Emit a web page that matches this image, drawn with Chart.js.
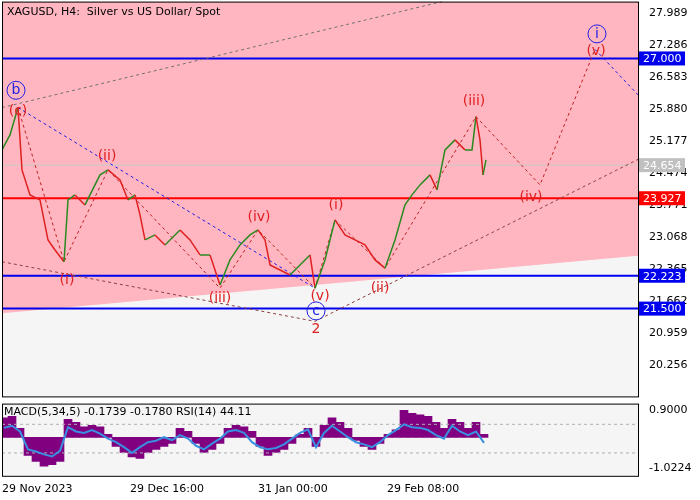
<!DOCTYPE html>
<html lang="en">
<head>
<meta charset="UTF-8">
<title>XAGUSD H4</title>
<script src="https://cdn.jsdelivr.net/npm/chart.js"></script>
<style>
  body { margin:0; background:#fff; font-family:Tahoma, "DejaVu Sans", sans-serif; overflow:hidden; }
  #main { position:absolute; left:0; top:-8px; }
  #sub { position:absolute; left:0; top:394px; }
</style>
</head>
<body>
<canvas id="sub" width="700" height="104"></canvas>
<canvas id="main" width="700" height="414"></canvas>
<script>
// price path (bar position, price)
const priceX = [0,8,16,20,28,38,46,53,62,66,73,83,98,106,118,126,133,138,143,153,163,178,188,198,208,218,228,238,248,256,263,268,278,288,298,308,313,323,333,343,353,363,373,383,393,403,410,418,428,435,443,453,463,470,474,478,481,484];
const priceY = [24.99,25.32,25.92,24.55,24.00,23.89,23.01,22.79,22.53,23.89,24.00,23.78,24.44,24.55,24.33,23.89,24.00,23.56,23.01,23.12,22.90,23.23,23.01,22.68,22.68,22.02,22.57,22.90,23.12,23.23,23.01,22.46,22.35,22.24,22.46,22.68,21.95,22.57,23.45,23.12,23.01,22.90,22.57,22.39,23.01,23.78,24.00,24.22,24.44,24.11,24.99,25.21,24.99,24.99,25.72,25.21,24.44,24.77];

const tickLabels = ['29 Nov 2023','29 Dec 16:00','31 Jan 00:00','29 Feb 08:00'];
const tickPos = [0,128,256,385];
const priceTicks = [27.989,27.286,26.583,25.880,25.177,24.474,23.771,23.068,22.365,21.662,20.959,20.256];

const levels = [27.000, 23.927, 22.223, 21.500];
const levelColors = ['#0000ee','#ff0000','#0000ee','#0000ee'];
const lastPrice = 24.654;

// shaded channel lower edge
const zoneX = [0,636];
const zoneLow = [21.40,22.66];

// wave paths
const waveX = [16,62,106,218,256,313,333,383,474,538,593];
const waveY = [25.92,22.53,24.55,21.95,23.23,21.95,23.45,22.39,25.72,24.22,27.20];
const blueX = [16,313];
const blueY = [25.92,21.95];
const blue2X = [593,636];
const blue2Y = [27.20,26.20];
const upperX = [0,440];
const upperY = [25.92,28.25];
const lowerX = [0,313,636];
const lowerY = [22.53,21.22,24.78];

const waveLabels = [
  ['(c)',16,25.83,'#e02020',false], ['b',14,26.30,'#2020e0',true],
  ['(i)',65,22.12,'#e02020',false], ['(ii)',105,24.85,'#e02020',false],
  ['(iii)',218,21.72,'#e02020',false], ['(iv)',257,23.50,'#e02020',false],
  ['(v)',318,21.78,'#e02020',false], ['c',314,21.45,'#2020e0',true],
  ['2',314,21.04,'#e02020',false], ['(i)',334,23.78,'#e02020',false],
  ['(ii)',378,21.95,'#e02020',false], ['(iii)',472,26.05,'#e02020',false],
  ['(iv)',529,23.95,'#e02020',false], ['(v)',594,27.16,'#e02020',false],
  ['i',595,27.54,'#2020e0',true]
];

// indicator panel
const indX = [2,10,18,26,34,42,50,58,66,74,82,90,98,106,114,122,130,138,146,154,162,170,178,186,194,202,210,218,226,234,242,250,258,266,274,282,290,298,306,314,322,330,338,346,354,362,370,378,386,394,402,410,418,426,434,442,450,458,466,474,482];
const macd = [0.65,0.7,0.3,-0.6,-0.8,-0.95,-0.9,-0.8,0.6,0.5,0.35,0.4,0.35,0.1,-0.3,-0.5,-0.65,-0.7,-0.5,-0.4,-0.3,-0.2,0.3,0.2,-0.2,-0.5,-0.4,-0.2,0.3,0.4,0.35,0.2,-0.3,-0.6,-0.5,-0.4,-0.2,0.1,0.3,-0.3,0.4,0.65,0.5,0.3,-0.1,-0.3,-0.4,-0.2,0.1,0.25,0.9,0.8,0.75,0.7,0.5,0.3,0.6,0.5,0.3,0.5,0.1];
const rsi = [65,68,60,35,32,28,25,33,66,60,58,62,57,50,45,38,30,38,45,47,52,48,55,50,40,35,43,50,60,62,58,45,38,35,37,42,50,58,63,38,58,68,60,52,45,42,38,45,55,62,70,66,65,62,55,50,68,60,55,60,44];

const pts = (xs, ys) => xs.map((x, i) => ({x: x, y: ys[i]}));
const font = {family: 'Tahoma, "DejaVu Sans", sans-serif', size: 11};

const frame = {
  id: 'frame',
  beforeDraw(chart) {
    const a = chart.chartArea, c = chart.ctx;
    c.save(); c.fillStyle = '#f5f5f5';
    c.fillRect(a.left, a.top, a.right - a.left, a.bottom - a.top); c.restore();
  },
  afterDraw(chart) {
    const a = chart.chartArea, c = chart.ctx;
    c.save(); c.strokeStyle = '#000'; c.lineWidth = 1;
    c.strokeRect(a.left + 0.5, a.top + 0.5, a.right - a.left, a.bottom - a.top);
    c.restore();
  }
};

const overlay = {
  id: 'overlay',
  afterDraw(chart) {
    const c = chart.ctx, xs = chart.scales.x, ys = chart.scales.y, a = chart.chartArea;
    c.save();
    c.font = '14px Tahoma, "DejaVu Sans", sans-serif';
    c.textAlign = 'center'; c.textBaseline = 'middle';
    waveLabels.forEach(l => {
      const px = xs.getPixelForValue(l[1]), py = ys.getPixelForValue(l[2]);
      c.fillStyle = l[3];
      c.fillText(l[0], px, py);
      if (l[4]) { c.strokeStyle = l[3]; c.lineWidth = 1; c.beginPath(); c.arc(px, py, 9, 0, Math.PI * 2); c.stroke(); }
    });
    c.font = '11px Tahoma, "DejaVu Sans", sans-serif';
    c.textAlign = 'left';
    c.fillStyle = '#000';
    c.fillText('XAGUSD, H4:  Silver vs US Dollar/ Spot', a.left + 5, a.top + 11);
    const box = (v, bg) => {
      const py = ys.getPixelForValue(v);
      c.fillStyle = bg; c.fillRect(a.right + 1, py - 7, 46, 14);
      c.fillStyle = '#fff'; c.fillText(v.toFixed(3), a.right + 5, py + 1);
    };
    levels.forEach((v, i) => box(v, levelColors[i]));
    box(lastPrice, '#c0c0c0');
    c.restore();
  }
};

const dashed = (data, color) => ({type: 'line', data: data, borderColor: color, borderWidth: 1, borderDash: [3, 3], pointRadius: 0, fill: false, order: 2});

new Chart(document.getElementById('main'), {
  type: 'line',
  data: {
    datasets: [
      {data: pts(zoneX, zoneLow), borderWidth: 0, pointRadius: 0, fill: 'end', backgroundColor: '#ffb6c1', order: 10},
      {data: pts(zoneX, [lastPrice, lastPrice]), borderColor: '#c8c8c8', borderWidth: 1, pointRadius: 0, order: 9},
      ...levels.map((v, i) => ({data: pts(zoneX, [v, v]), borderColor: levelColors[i], borderWidth: 2, pointRadius: 0, order: 8})),
      dashed(pts(upperX, upperY), '#707070'),
      dashed(pts(lowerX, lowerY), '#8a4040'),
      dashed(pts(blueX, blueY), '#2020e0'),
      dashed(pts(blue2X, blue2Y), '#2020e0'),
      dashed(pts(waveX, waveY), '#c02020'),
      {data: pts(priceX, priceY), borderWidth: 1.5, pointRadius: 0, order: 1,
       segment: {borderColor: s => s.p1.parsed.y >= s.p0.parsed.y ? '#2a8a20' : '#e02020'}}
    ]
  },
  options: {
    responsive: false, animation: false,
    layout: {padding: {left: 2, top: 2, right: 0, bottom: 2}},
    plugins: {legend: {display: false}, tooltip: {enabled: false}},
    scales: {
      x: {type: 'linear', min: 0, max: 636, display: false},
      y: {position: 'right', min: 19.57, max: 28.25,
          afterBuildTicks: s => { s.ticks = priceTicks.map(v => ({value: v})); },
          afterFit: s => { s.width = 62; },
          grid: {display: false, drawTicks: true},
          border: {display: false},
          ticks: {color: '#000', font: font, padding: 3, callback: v => v.toFixed(3)}}
    }
  },
  plugins: [frame, overlay]
});

const subOverlay = {
  id: 'subOverlay',
  afterDraw(chart) {
    const c = chart.ctx, a = chart.chartArea;
    c.save(); c.font = '11px Tahoma, "DejaVu Sans", sans-serif';
    c.fillStyle = '#000'; c.textBaseline = 'middle';
    c.fillText('MACD(5,34,5) -0.1739 -0.1780 RSI(14) 44.11', a.left + 2, a.top + 9);
    c.restore();
  }
};

new Chart(document.getElementById('sub'), {
  type: 'bar',
  data: {
    datasets: [
      {type: 'bar', data: pts(indX, macd), backgroundColor: '#800080', barThickness: 8, yAxisID: 'macdAxis', order: 5},
      {type: 'line', data: pts([0, 636], [70, 70]), borderColor: '#b0b0b0', borderWidth: 1, borderDash: [3, 3], pointRadius: 0, yAxisID: 'rsiAxis', order: 4},
      {type: 'line', data: pts([0, 636], [30, 30]), borderColor: '#b0b0b0', borderWidth: 1, borderDash: [3, 3], pointRadius: 0, yAxisID: 'rsiAxis', order: 4},
      {type: 'line', data: pts(indX, rsi), borderColor: '#3a90e0', borderWidth: 2, pointRadius: 0, yAxisID: 'rsiAxis', order: 1}
    ]
  },
  options: {
    responsive: false, animation: false,
    layout: {padding: {left: 2, top: 4, right: 0, bottom: 0}},
    plugins: {legend: {display: false}, tooltip: {enabled: false}},
    scales: {
      x: {type: 'linear', min: 0, max: 636, offset: false,
          afterBuildTicks: s => { s.ticks = tickPos.map(v => ({value: v})); },
          grid: {display: false, drawTicks: true, tickLength: 5},
          border: {display: false},
          ticks: {color: '#000', font: font, align: 'start', padding: 2, maxRotation: 0,
                  callback: (v, i) => tickLabels[i]}},
      macdAxis: {axis: 'y', type: 'linear', position: 'right', min: -1.0224 - 0.25, max: 0.9 + 0.22,
          afterBuildTicks: s => { s.ticks = [{value: 0.9}, {value: -1.0224}]; },
          afterFit: s => { s.width = 62; },
          grid: {display: false}, border: {display: false},
          ticks: {color: '#000', font: font, callback: v => v.toFixed(4)}},
      rsiAxis: {axis: 'y', type: 'linear', position: 'right', display: false, min: -2, max: 99}
    }
  },
  plugins: [frame, subOverlay]
});
</script>
</body>
</html>
